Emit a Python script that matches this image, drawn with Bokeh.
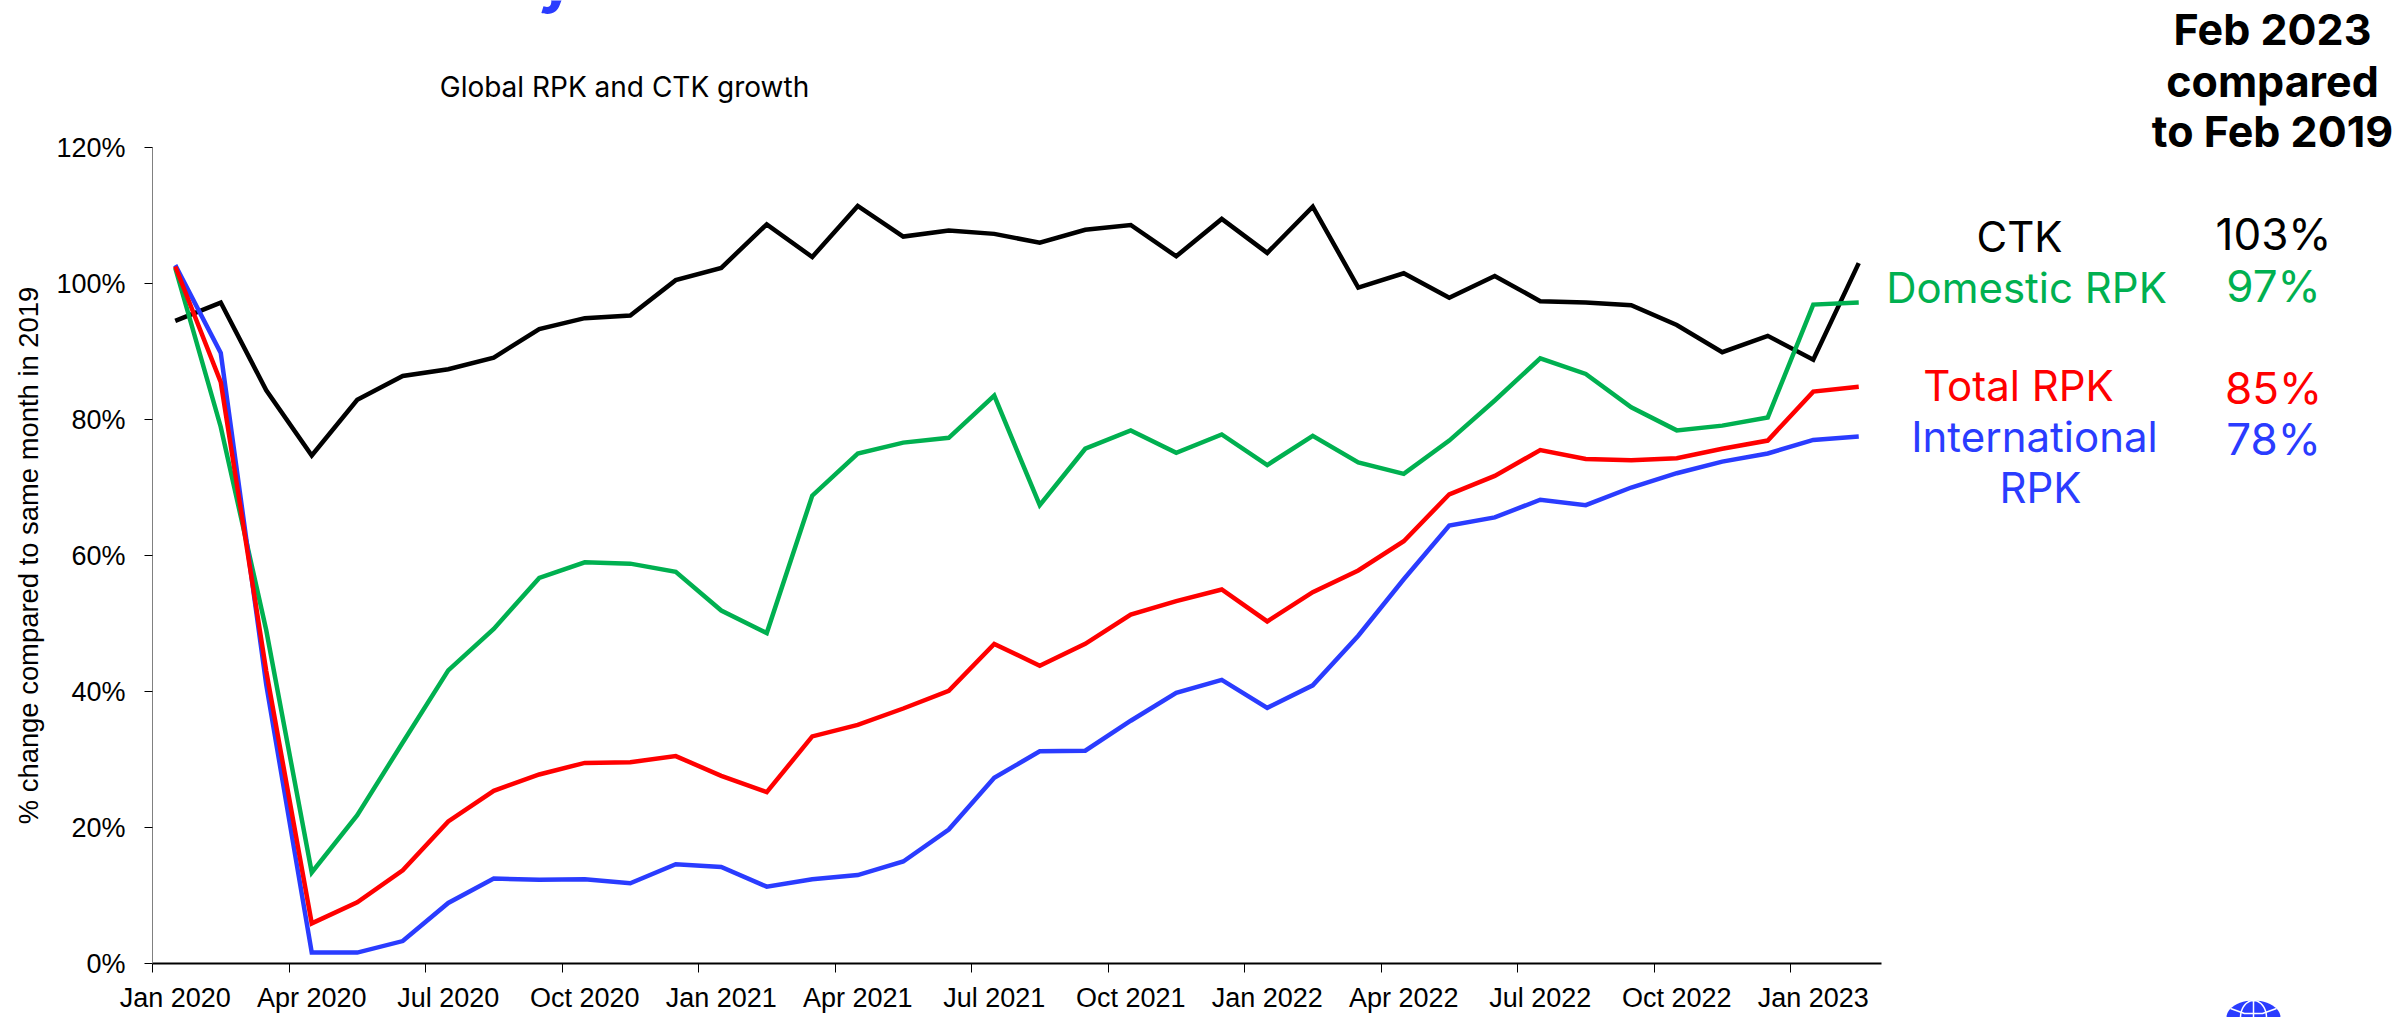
import numpy as np
from bokeh.plotting import figure
from bokeh.models import Range1d, FixedTicker
from bokeh.core.properties import value
from bokeh.embed import file_html
from bokeh.resources import INLINE

months = ["Jan 2020","Feb 2020","Mar 2020","Apr 2020","May 2020","Jun 2020","Jul 2020","Aug 2020","Sep 2020","Oct 2020","Nov 2020","Dec 2020",
          "Jan 2021","Feb 2021","Mar 2021","Apr 2021","May 2021","Jun 2021","Jul 2021","Aug 2021","Sep 2021","Oct 2021","Nov 2021","Dec 2021",
          "Jan 2022","Feb 2022","Mar 2022","Apr 2022","May 2022","Jun 2022","Jul 2022","Aug 2022","Sep 2022","Oct 2022","Nov 2022","Dec 2022",
          "Jan 2023","Feb 2023"]
ctk = [94.5,97.2,84.3,74.7,82.9,86.4,87.4,89.1,93.3,94.9,95.3,100.5,102.3,108.7,103.9,111.4,106.9,107.8,107.3,106.0,107.9,108.6,104.0,109.5,104.5,111.3,99.4,101.5,97.9,101.1,97.4,97.2,96.8,93.9,89.9,92.3,88.8,103.0]
domestic = [102.3,78.9,49.0,13.4,21.8,32.5,43.1,49.2,56.7,59.0,58.8,57.6,51.9,48.6,68.8,75.0,76.6,77.3,83.5,67.4,75.7,78.4,75.1,77.8,73.3,77.6,73.7,72.0,76.9,82.8,89.0,86.7,81.8,78.4,79.1,80.3,96.9,97.2]
total = [102.5,85.5,43.0,5.9,9.0,13.7,20.9,25.4,27.8,29.5,29.6,30.5,27.6,25.2,33.4,35.1,37.5,40.1,47.0,43.8,47.0,51.3,53.3,55.0,50.3,54.6,57.8,62.1,69.0,71.7,75.5,74.2,74.0,74.3,75.7,76.9,84.1,84.8]
international = [102.7,89.8,41.0,1.6,1.6,3.3,8.9,12.5,12.3,12.4,11.8,14.6,14.2,11.3,12.4,13.0,15.0,19.7,27.3,31.2,31.3,35.7,39.8,41.7,37.6,40.9,48.2,56.5,64.4,65.6,68.2,67.4,70.0,72.1,73.8,75.0,77.0,77.5]
y_ticks = [0,20,40,60,80,100,120]

BLACK, GREEN, RED, BLUE = "#000000", "#00B050", "#FF0000", "#2A3CFF"
SANS = "Liberation Sans"
UI = "Inter"
W, H = 2397, 1017

# the frame fills the page so that texts round the chart can be drawn anywhere on it
PX0, PXM = 152.0, 45.5
PY0, PYU = 963.0, 6.8
dx = lambda px: (px - PX0) / PXM
dy = lambda py: (PY0 - py) / PYU

p = figure(width=W, height=H, output_backend="svg", toolbar_location=None,
           x_range=Range1d(dx(0), dx(W)), y_range=Range1d(dy(H), dy(0)),
           min_border=0)
p.background_fill_color = "white"
p.border_fill_color = "white"
p.outline_line_color = None
p.grid.visible = False

x = [i + 0.5 for i in range(len(months))]
for vals, col in ((ctk, BLACK), (domestic, GREEN), (international, BLUE), (total, RED)):
    p.line(x, vals, line_color=col, line_width=4.5, line_join="miter")

# x axis: labels centred on every third month, tick marks on the month boundaries
xa = p.xaxis[0]
xa.fixed_location = 0
xa.bounds = (0, len(months))
xa.ticker = FixedTicker(ticks=[x[i] for i in range(0, len(months), 3)],
                        minor_ticks=list(range(0, len(months), 3)))
xa.major_label_overrides = {x[i]: months[i] for i in range(0, len(months), 3)}
xa.major_tick_line_color = None
xa.major_tick_out = 0
xa.major_tick_in = 0
xa.minor_tick_out = 9
xa.minor_tick_in = 0
xa.minor_tick_line_color = "#000000"
xa.minor_tick_line_width = 1
xa.axis_line_color = "#000000"
xa.axis_line_width = 2
xa.major_label_standoff = 10
xa.major_label_text_font = SANS
xa.major_label_text_font_size = "27px"
xa.major_label_text_color = "#000000"
xa.major_label_orientation = "horizontal"

ya = p.yaxis[0]
ya.fixed_location = 0
ya.bounds = (0, 120)
ya.ticker = FixedTicker(ticks=y_ticks, minor_ticks=[])
ya.major_label_overrides = {v: f"{v}%" for v in y_ticks}
ya.major_tick_out = 8
ya.major_tick_in = 0
ya.major_tick_line_color = "#000000"
ya.major_tick_line_width = 1
ya.axis_line_color = "#808080"
ya.axis_line_width = 1
ya.major_label_standoff = 19
ya.major_label_text_font = SANS
ya.major_label_text_font_size = "27px"
ya.major_label_text_color = "#000000"
ya.axis_label = "% change compared to same month in 2019"
ya.axis_label_text_font = SANS
ya.axis_label_text_font_style = "normal"
ya.axis_label_text_font_size = "27.4px"
ya.axis_label_text_color = "#000000"
ya.axis_label_standoff = 9

def label(txt, px, py, col=BLACK, size=42, style="normal", font=UI, baseline="middle"):
    p.text([dx(px)], [dy(py)], text=[txt], text_color=col, text_font=value(font),
           text_font_size=f"{size}px", text_font_style=style,
           text_align="center", text_baseline=baseline)

label("Global RPK and CTK growth", 624, 86, size=28)

for txt, py in (("Feb 2023", 28), ("compared", 80), ("to Feb 2019", 130)):
    label(txt, 2272, py, size=43, style="bold")

for txt, px, py, col in (("CTK", 2019, 236, BLACK), ("Domestic RPK", 2026, 287, GREEN),
                         ("Total RPK", 2018, 385, RED), ("International", 2034, 436, BLUE),
                         ("RPK", 2040, 487, BLUE)):
    label(txt, px, py, col)

for txt, py, col in (("103%", 233, BLACK), ("97%", 285, GREEN), ("85%", 387, RED), ("78%", 438, BLUE)):
    label(txt, 2273, py, col, size=44)

# cut-off title above the chart: only a descender is left on the page
label("y", 556, -22, BLUE, size=62, style="bold", baseline="alphabetic")

# globe logo, cut off at the bottom of the page
t = np.linspace(np.pi, 0, 25)
p.patch([dx(v) for v in 2253 + 27 * np.cos(t)], [dy(v) for v in 1017 - 17 * np.sin(t)], fill_color=BLUE, line_color=None)
p.line([dx(v) for v in 2253 + 13 * np.cos(t)], [dy(v) for v in 1017 - 17 * np.sin(t)], line_color="white", line_width=1.5)
p.line([dx(2253), dx(2253)], [dy(1000), dy(1017)], line_color="white", line_width=1.5)
p.line([dx(v) for v in (2230, 2244, 2262, 2276)], [dy(v) for v in (1008, 1013, 1013, 1008)], line_color="white", line_width=1.5)

open("out.html", "w").write(file_html(p, INLINE))
